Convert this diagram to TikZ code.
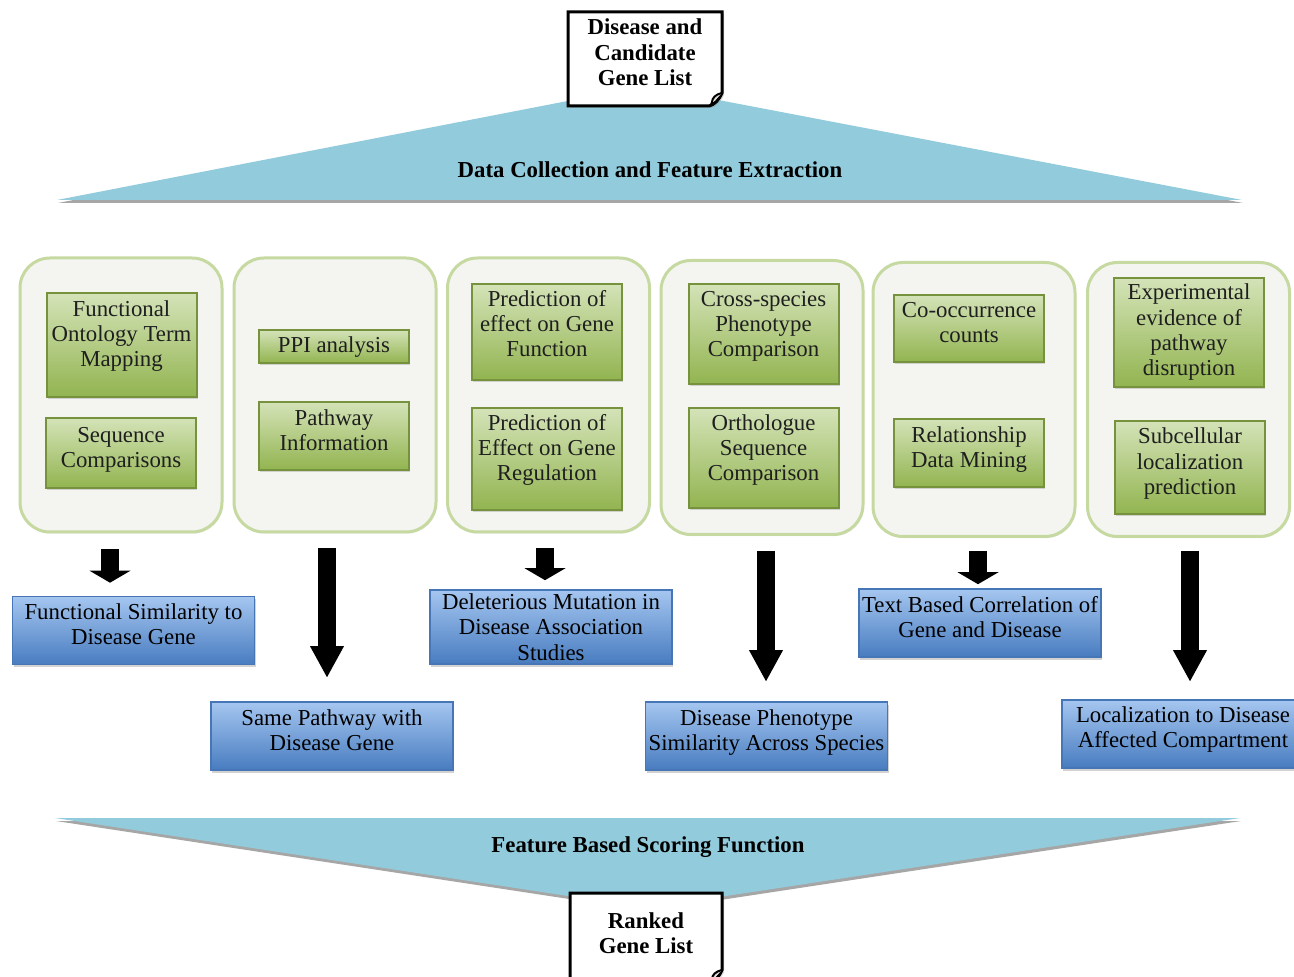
\documentclass[tikz,border=0pt]{standalone}
\usepackage{fontspec}
\setmainfont{Liberation Serif}
\usetikzlibrary{arrows.meta,shadows,calc}
\definecolor{tri}{RGB}{146,203,220}
\definecolor{contfill}{RGB}{244,245,241}
\definecolor{contdraw}{RGB}{197,217,160}
\definecolor{gtop}{RGB}{212,227,184}
\definecolor{gbot}{RGB}{146,180,80}
\definecolor{gdraw}{RGB}{118,146,60}
\definecolor{btop}{RGB}{165,198,240}
\definecolor{bbot}{RGB}{72,124,192}
\definecolor{bdraw}{RGB}{70,118,182}
\begin{document}
\begin{tikzpicture}[x=0.5pt,y=-0.5pt,
  every node/.style={font=\fontsize{11.4}{12.6}\selectfont, align=center, inner sep=0pt},
  boldtext/.style={font=\fontsize{11.4}{12.6}\selectfont\bfseries},
  cont/.style={draw=contdraw, line width=1.5pt, fill=contfill, rounded corners=15pt,
    minimum width=101pt, minimum height=137pt,
    drop shadow={opacity=0.15, shadow xshift=0.5pt, shadow yshift=-0.8pt}},
  gbox/.style={draw=gdraw, line width=1pt, top color=gtop, bottom color=gbot,
    minimum width=75pt, text=black!88,
    drop shadow={opacity=0.3, shadow xshift=0.6pt, shadow yshift=-1.2pt}},
  bbox/.style={draw=bdraw, line width=0.8pt, top color=btop, bottom color=bbot,
    minimum width=121pt, minimum height=34pt,
    drop shadow={opacity=0.35, shadow xshift=0.6pt, shadow yshift=-1.4pt}},
  docline/.style={line width=1.5pt, fill=white, line join=miter,
    drop shadow={opacity=0.3, shadow xshift=1pt, shadow yshift=-1pt}},
  shortarrow/.style={line width=9pt, -{Triangle[width=20.5pt,length=6pt,line width=0pt]}},
  longarrow/.style={line width=9.25pt, -{Triangle[width=17pt,length=15.5pt,line width=0pt]}}
]
\useasboundingbox (0,0) rectangle (1294,977);
\clip (0,0) rectangle (1294,977);
\fill[white] (0,0) rectangle (1294,977);

% top triangle
\fill[black!35] (645,89) -- (58,203) -- (1243,203) -- cycle;
\fill[tri] (645,86) -- (57,200) -- (1242,200) -- cycle;
\node[boldtext] (t1) at (650,170) {Data Collection and Feature Extraction};

% bottom triangle
\fill[black!35] (56,821) -- (1241,821) -- (648,911) -- cycle;
\fill[tri] (55,818) -- (1240,818) -- (647,908) -- cycle;
\node[boldtext] (t2) at (648,847) {Feature Based Scoring Function};

% top document
\coordinate (d1c) at (645,59);
\draw[docline] ($(d1c)+(-77,-47)$) -- ($(d1c)+(77,-47)$) -- ($(d1c)+(77,34)$)
  .. controls ($(d1c)+(74,41)$) and ($(d1c)+(69,46)$) .. ($(d1c)+(64,47)$)
  -- ($(d1c)+(-77,47)$) -- cycle;
\draw[line width=1pt, fill=black!15] ($(d1c)+(77,34)$) .. controls ($(d1c)+(71,35)$) and ($(d1c)+(67,39)$) .. ($(d1c)+(67,43)$)
  .. controls ($(d1c)+(67,46)$) and ($(d1c)+(65,47)$) .. ($(d1c)+(64,47)$);
\node[boldtext, minimum width=77pt, minimum height=47pt, text depth=6.8pt] (d1) at (d1c) {Disease and\\Candidate\\Gene List};

% bottom document
\coordinate (d2c) at (646,938);
\draw[docline] ($(d2c)+(-76,-45)$) -- ($(d2c)+(76,-45)$) -- ($(d2c)+(76,32)$)
  .. controls ($(d2c)+(73,39)$) and ($(d2c)+(68,44)$) .. ($(d2c)+(63,45)$)
  -- ($(d2c)+(-76,45)$) -- cycle;
\draw[line width=1pt, fill=black!15] ($(d2c)+(76,32)$) .. controls ($(d2c)+(70,33)$) and ($(d2c)+(66,37)$) .. ($(d2c)+(66,41)$)
  .. controls ($(d2c)+(66,44)$) and ($(d2c)+(64,45)$) .. ($(d2c)+(63,45)$);
\node[boldtext, minimum width=76pt, minimum height=45pt, text depth=5.3pt] (d2) at (d2c) {Ranked\\Gene List};

% containers
\node[cont] (c1) at (121,395) {};
\node[cont] (c2) at (335,395) {};
\node[cont] (c3) at (548.5,395) {};
\node[cont] (c4) at (762,397.5) {};
\node[cont] (c5) at (974,399.5) {};
\node[cont] (c6) at (1188.5,399.5) {};

% green boxes
\node[gbox, minimum height=52pt, text depth=11.3pt] (g11) at (121.5,345) {Functional\\Ontology Term\\Mapping};
\node[gbox, minimum height=35pt, text depth=5.3pt] (g12) at (121,453) {Sequence\\Comparisons};
\node[gbox, minimum height=16.5pt, text depth=2.3pt] (g21) at (334,346.5) {PPI analysis};
\node[gbox, minimum height=34pt, text depth=6.3pt] (g22) at (334,436) {Pathway\\Information};
\node[gbox, minimum height=48pt, text depth=8.3pt] (g31) at (547,332) {Prediction of\\effect on Gene\\Function};
\node[gbox, minimum height=51pt, text depth=11.3pt] (g32) at (547,459) {Prediction of\\Effect on Gene\\Regulation};
\node[gbox, minimum height=50pt, text depth=10.3pt] (g41) at (763.5,334) {Cross-species\\Phenotype\\Comparison};
\node[gbox, minimum height=50pt, text depth=10.3pt] (g42) at (763.5,458) {Orthologue\\Sequence\\Comparison};
\node[gbox, minimum height=33.5pt, text depth=6.3pt] (g51) at (969,328.5) {Co-occurrence\\counts};
\node[gbox, minimum height=34pt, text depth=5.8pt] (g52) at (969,453) {Relationship\\Data Mining};
\node[gbox, minimum height=54.5pt, text depth=2.8pt] (g61) at (1189,332.5) {Experimental\\evidence of\\pathway\\disruption};
\node[gbox, minimum height=46.5pt, text depth=6.3pt] (g62) at (1190,467.5) {Subcellular\\localization\\prediction};

% blue boxes
\node[bbox, text depth=6.3pt] (b1) at (133.5,630.5) {Functional Similarity to\\Disease Gene};
\node[bbox, text depth=6.3pt] (b2) at (332,736) {Same Pathway with\\Disease Gene};
\node[bbox, minimum height=37pt, text depth=0pt] (b3) at (551,627) {Deleterious Mutation in\\Disease Association\\Studies};
\node[bbox, text depth=6.3pt] (b4) at (766.5,736) {Disease Phenotype\\Similarity Across Species};
\node[bbox, text depth=6.3pt] (b5) at (980,623) {Text Based Correlation of\\Gene and Disease};
\node[bbox, text depth=6.8pt] (b6) at (1183,734) {Localization to Disease\\Affected Compartment};

% arrows
\draw[shortarrow] ($(c1.south)+(-11,16)$) -- ($(b1.north)+(-23.5,-13)$);
\draw[longarrow] ($(c2.south)+(-8,15)$) -- ($(b2.north)+(-5,-24)$);
\draw[shortarrow] ($(c3.south)+(-3.5,15)$) -- ($(b3.north)+(-6,-9)$);
\draw[longarrow] ($(c4.south)+(4,15)$) -- ($(b4.north)+(-0.5,-20)$);
\draw[shortarrow] ($(c5.south)+(4,13)$) -- ($(b5.north)+(-2,-4)$);
\draw[longarrow] ($(c6.south)+(1.5,13)$) -- ($(b6.north)+(7,-18)$);
\end{tikzpicture}
\end{document}
